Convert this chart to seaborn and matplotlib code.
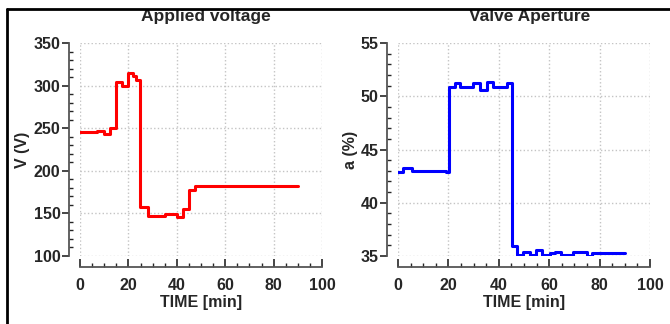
import numpy as np
import matplotlib
matplotlib.use('Agg')
import matplotlib.pyplot as plt
from matplotlib.lines import Line2D
from matplotlib.patches import Rectangle
from matplotlib.ticker import MultipleLocator
import seaborn as sns

# applied voltage, step changes (time in min, value in V)
volt_time = [0, 7, 10, 12.5, 15, 17.2, 20, 22, 23, 24.8, 28, 35, 40, 42.5, 45, 47.5, 90]
volt_value = [245, 247, 243, 250, 304, 299, 315, 311, 306, 157, 147, 149, 146, 155, 178, 182, 182]

# valve aperture, step changes (time in min, value in %)
aper_time = [0, 2, 5.5, 19, 20.3, 22.6, 24.6, 29.9, 32.5, 35.2, 37.8, 43.1, 45.1, 47.2,
             49.7, 52.4, 54.8, 57.1, 60.4, 62.4, 64.6, 69.6, 74.9, 76.9, 90]
aper_value = [42.9, 43.3, 43.0, 42.9, 50.9, 51.2, 50.9, 51.2, 50.6, 51.3, 50.9, 51.2, 35.9, 35.1,
              35.4, 35.1, 35.6, 35.1, 35.3, 35.4, 35.1, 35.4, 35.0, 35.3, 35.3]

sns.set_style('ticks')
plt.rcParams['font.family'] = ['Liberation Sans', 'DejaVu Sans']
plt.rcParams['font.weight'] = 'bold'

W, H = 670, 324
fig = plt.figure(figsize=(W / 100, H / 100), dpi=100)


def panel(rect, t, v, color, ylim, ymajor, yminor, ylabel, title, title_x, ylabel_x):
    ax = fig.add_axes(rect)
    sns.lineplot(x=t, y=v, ax=ax, color=color, lw=2.2, drawstyle='steps-post')
    ax.set_xlim(0, 100)
    ax.set_ylim(*ylim)
    ax.xaxis.set_major_locator(MultipleLocator(20))
    ax.xaxis.set_minor_locator(MultipleLocator(5))
    ax.yaxis.set_major_locator(MultipleLocator(ymajor))
    ax.yaxis.set_minor_locator(MultipleLocator(yminor))
    ax.grid(True, which='major', ls=':', lw=1.0, color='#c4c4c4')
    ax.tick_params(axis='x', which='both', direction='in', labelsize=11.5, pad=8)
    ax.tick_params(axis='x', which='major', length=6, width=1.2)
    ax.tick_params(axis='x', which='minor', length=3, width=1.0)
    ax.tick_params(axis='y', which='major', direction='out', length=5, width=1.2, labelsize=11.5, pad=1)
    ax.tick_params(axis='y', which='minor', direction='in', length=3, width=1.0)
    for lab in ax.get_xticklabels() + ax.get_yticklabels():
        lab.set_fontweight('bold')
    sns.despine(ax=ax, offset=8)
    for s in ['left', 'bottom']:
        ax.spines[s].set_color('#555555')
        ax.spines[s].set_linewidth(1.3)
    ax.set_xlabel('TIME [min]', fontsize=11.5, fontweight='bold', labelpad=1)
    ax.set_ylabel('')
    fig.text(ylabel_x / W, 1 - 150 / H, ylabel, rotation=90, fontsize=11.5,
             fontweight='bold', ha='center', va='center')
    fig.text(title_x / W, 1 - 21 / H, title, fontsize=12.5, fontweight='bold',
             ha='center', va='baseline')
    return ax


panel([80 / W, 1 - 256 / H, 242 / W, 213 / H], volt_time, volt_value, '#ff0000',
      (100, 350), 50, 10, 'V (V)', 'Applied voltage', 206, 22)
panel([398 / W, 1 - 256 / H, 252 / W, 213 / H], aper_time, aper_value, '#0000ff',
      (35, 55), 5, 1, 'a (%)', 'Valve Aperture', 530, 351)

# frame around the figure (top and left only), cutting the titles
top = 1 - 8.5 / H
left = 7 / W
fig.add_artist(Rectangle((0, top), 1, 1 - top, transform=fig.transFigure,
                         facecolor='white', edgecolor='none', zorder=10))
fig.add_artist(Line2D([left, 1], [top, top], transform=fig.transFigure,
                      color='black', lw=2, zorder=11))
fig.add_artist(Line2D([left, left], [0, top], transform=fig.transFigure,
                      color='black', lw=2, zorder=11))

fig.savefig('out.png', dpi=100)
